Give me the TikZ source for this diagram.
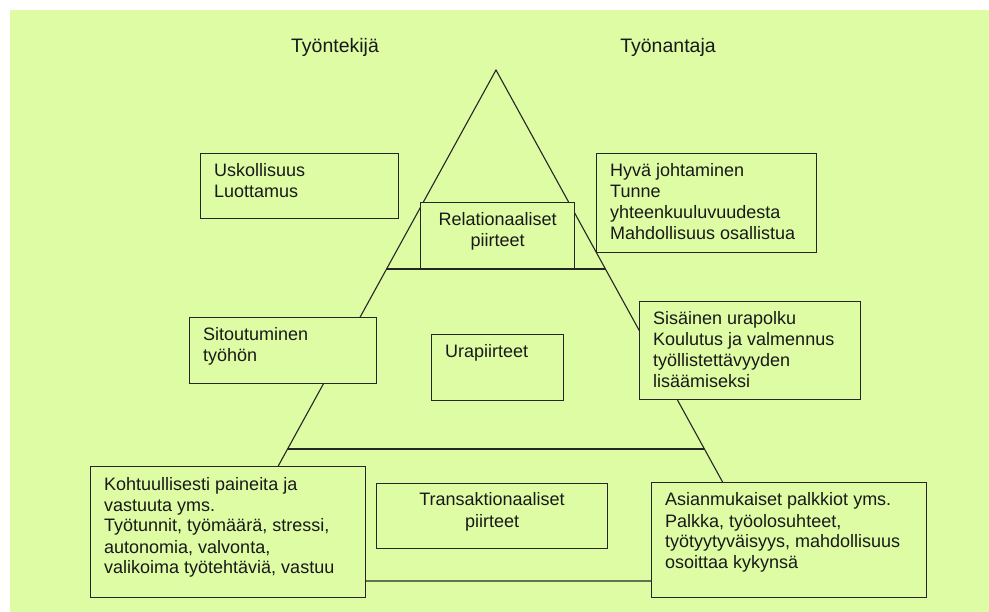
\documentclass[tikz,border=0pt]{standalone}
\usepackage{fontspec}
\setmainfont{Liberation Sans}
\usetikzlibrary{calc}
\definecolor{bggreen}{RGB}{221,252,164}
\begin{document}
\begin{tikzpicture}[x=1pt,y=-1pt,
  box/.style={draw=black!85, line width=1.1pt, fill=bggreen, rectangle, inner sep=0pt, anchor=north west},
  txt/.style={inner sep=0pt, font=\fontsize{18}{21}\selectfont, text=black!90},
  head/.style={inner sep=0pt, font=\fontsize{19.5}{23}\selectfont, text=black!90},
  edge/.style={draw=black!85, line width=1.1pt}]
\useasboundingbox (0,0) rectangle (989,612);
\fill[bggreen] (10,10) rectangle (989,612);

% headers
\node[head, anchor=base] (emp) at (335,53) {Työntekijä};
\node[head, anchor=base] (empl) at (668,53) {Työnantaja};

% pyramid
\coordinate (A) at (496,70);
\coordinate (BL) at (215,581);
\coordinate (BR) at (777,581);
\draw[edge] (A) -- (BL) -- (BR) -- cycle;
\draw[edge] ($(A)!0.3894!(BL)$) -- ($(A)!0.3894!(BR)$);
\draw[edge] ($(A)!0.7417!(BL)$) -- ($(A)!0.7417!(BR)$);

% boxes
\node[box, minimum width=154pt, minimum height=66pt] (rel) at (420,202) {};
\node[box, minimum width=220pt, minimum height=99pt] (hyva) at (596,153) {};
\node[box, minimum width=198pt, minimum height=65pt] (usk) at (200,153) {};
\node[box, minimum width=187pt, minimum height=66pt] (sit) at (189,317) {};
\node[box, minimum width=132pt, minimum height=66pt] (ura) at (431,334) {};
\node[box, minimum width=221pt, minimum height=98pt] (sis) at (639,301) {};
\node[box, minimum width=275pt, minimum height=131pt] (koh) at (90,466) {};
\node[box, minimum width=231pt, minimum height=65pt] (tra) at (376,483) {};
\node[box, minimum width=275pt, minimum height=115pt] (asi) at (651,482) {};

% texts
\node[txt, anchor=base] (relT) at ([yshift=-24pt]rel.north) {\parbox[t]{150pt}{\centering Relationaaliset\\piirteet}};
\node[txt, anchor=base west] (hyvaT) at ([xshift=14pt,yshift=-24pt]hyva.north west) {\parbox[t]{300pt}{\raggedright Hyvä johtaminen\\Tunne\\yhteenkuuluvuudesta\\Mahdollisuus osallistua}};
\node[txt, anchor=base west] (uskT) at ([xshift=14pt,yshift=-24pt]usk.north west) {\parbox[t]{300pt}{\raggedright Uskollisuus\\Luottamus}};
\node[txt, anchor=base west] (sitT) at ([xshift=14pt,yshift=-24pt]sit.north west) {\parbox[t]{300pt}{\raggedright Sitoutuminen\\työhön}};
\node[txt, anchor=base west] (uraT) at ([xshift=14pt,yshift=-24pt]ura.north west) {\parbox[t]{300pt}{\raggedright Urapiirteet}};
\node[txt, anchor=base west] (sisT) at ([xshift=14pt,yshift=-24pt]sis.north west) {\parbox[t]{300pt}{\raggedright Sisäinen urapolku\\Koulutus ja valmennus\\työllistettävyyden\\lisäämiseksi}};
\node[txt, anchor=base west] (kohT) at ([xshift=14pt,yshift=-24pt]koh.north west) {\parbox[t]{300pt}{\raggedright Kohtuullisesti paineita ja\\vastuuta yms.\\Työtunnit, työmäärä, stressi,\\autonomia, valvonta,\\valikoima työtehtäviä, vastuu}};
\node[txt, anchor=base] (traT) at ([yshift=-23pt]tra.north) {\parbox[t]{220pt}{\centering Transaktionaaliset\\piirteet}};
\node[txt, anchor=base west] (asiT) at ([xshift=14pt,yshift=-24pt]asi.north west) {\parbox[t]{300pt}{\raggedright Asianmukaiset palkkiot yms.\\Palkka, työolosuhteet,\\työtyytyväisyys, mahdollisuus\\osoittaa kykynsä}};
\end{tikzpicture}
\end{document}
